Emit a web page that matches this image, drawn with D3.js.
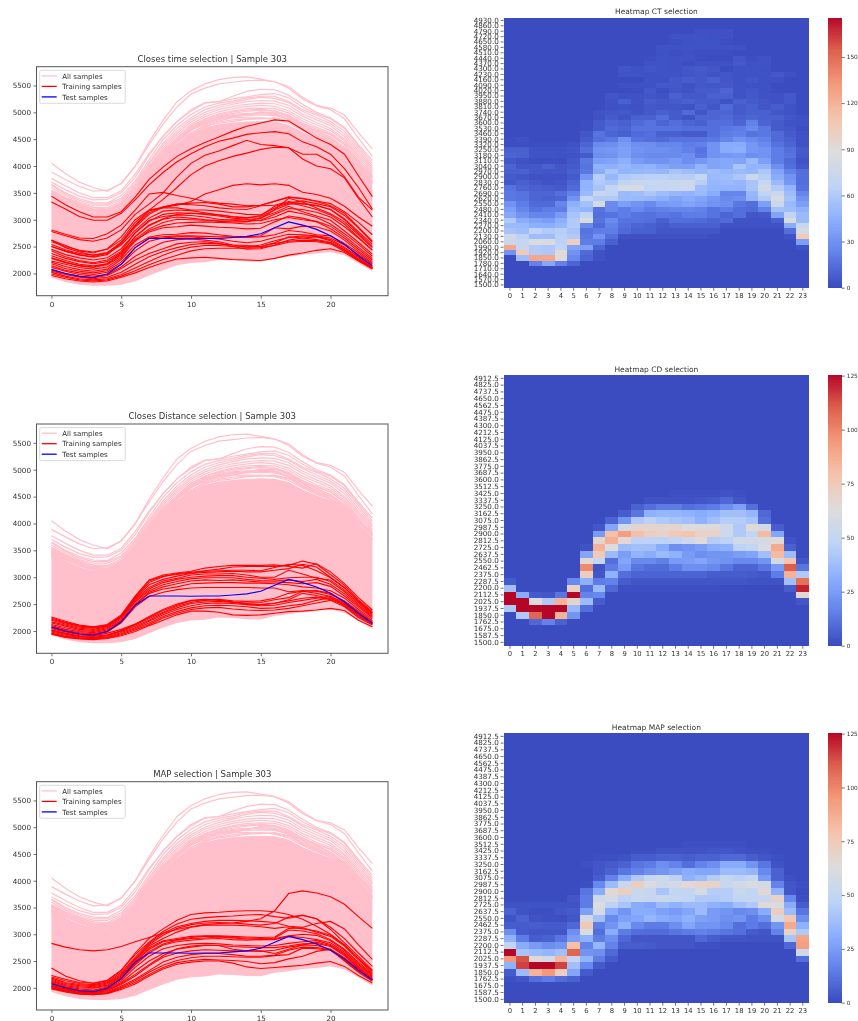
<!DOCTYPE html>
<html>
<head>
<meta charset="utf-8">
<script src="https://cdn.jsdelivr.net/npm/d3@7"></script>
<style>
  body { margin: 0; background: #fff; }
  svg { display: block; filter: blur(0.35px); }
  text { font-family: "DejaVu Sans", sans-serif; fill: #333; }
</style>
</head>
<body>
<svg id="chart" width="858" height="1021"></svg>
<script>
var hours = [0,1,2,3,4,5,6,7,8,9,10,11,12,13,14,15,16,17,18,19,20,21,22,23];
var xTicks = [0,5,10,15,20];
var yTicks = [2000,2500,3000,3500,4000,4500,5000,5500];
var legendLabels = ['All samples','Training samples','Test samples'];

var testSample = [2075,2000,1945,1925,1990,2170,2480,2650,2650,2650,2645,2650,2650,2670,2690,2740,2850,2960,2900,2820,2700,2540,2330,2145];

// the solid part of the pink bundle
var bandLower = [1920,1840,1790,1770,1770,1790,1850,1960,2060,2150,2195,2210,2250,2240,2220,2215,2280,2310,2350,2370,2400,2340,2190,2040];
var bandUpper = [3460,3310,3190,3120,3110,3230,3500,3880,4170,4420,4600,4720,4780,4810,4830,4840,4830,4770,4630,4520,4430,4260,3960,3710];

var allSamples = [
  [4050,3860,3700,3600,3530,3680,4000,4450,4850,5200,5400,5530,5610,5650,5660,5620,5570,5480,5280,5130,5080,4950,4620,4320],
  [3890,3750,3620,3530,3550,3670,3990,4400,4780,5100,5340,5450,5530,5560,5590,5600,5570,5450,5250,5120,5050,4880,4520,4180],
  [3770,3630,3500,3410,3410,3540,3850,4230,4550,4830,5050,5180,5200,5300,5390,5430,5420,5320,5150,5000,4900,4720,4400,4100],
  [3700,3560,3440,3370,3380,3500,3790,4200,4560,4830,5020,5170,5200,5250,5290,5330,5350,5270,5100,4970,4880,4700,4370,4050],
  [3660,3500,3390,3320,3310,3450,3720,4120,4490,4760,4960,5100,5170,5210,5270,5300,5300,5200,5050,4950,4830,4650,4330,4000],
  [3640,3480,3360,3290,3290,3400,3680,4070,4420,4700,4900,5050,5130,5180,5240,5280,5260,5180,5020,4900,4790,4600,4280,3960],
  [3600,3450,3330,3260,3260,3370,3650,4040,4380,4650,4860,5000,5090,5150,5200,5220,5210,5130,4970,4860,4750,4550,4230,3930],
  [3560,3420,3300,3230,3220,3340,3620,4000,4340,4610,4820,4960,5050,5110,5150,5170,5160,5080,4930,4810,4700,4500,4190,3890],
  [3530,3390,3270,3200,3190,3310,3590,3970,4300,4570,4780,4920,5010,5070,5110,5130,5110,5030,4880,4770,4660,4470,4150,3860],
  [3510,3360,3240,3170,3160,3280,3560,3940,4260,4530,4740,4880,4970,5030,5070,5080,5070,4990,4840,4720,4620,4430,4110,3830],
  [3480,3340,3220,3150,3140,3260,3530,3910,4230,4490,4700,4840,4930,4980,5020,5040,5030,4950,4800,4680,4580,4390,4080,3800],
  [3470,3330,3210,3140,3130,3240,3510,3890,4200,4460,4660,4800,4890,4940,4970,4990,4980,4900,4760,4640,4540,4350,4040,3770],
  [3450,3320,3230,3180,3170,3250,3480,3860,4200,4470,4690,4830,4910,4960,4980,4970,4960,4870,4720,4620,4510,4320,4010,3760],
  [3430,3280,3160,3100,3130,3270,3540,3900,4230,4520,4720,4850,4900,4930,4940,4950,4940,4880,4750,4590,4500,4330,4040,3790],
  [3500,3370,3260,3170,3150,3220,3490,3850,4170,4440,4670,4780,4870,4920,4950,5000,5010,4930,4770,4660,4530,4300,3980,3730],
  [3410,3250,3130,3060,3070,3190,3470,3840,4150,4410,4610,4760,4840,4900,4960,5010,4970,4860,4690,4600,4470,4290,3970,3720],
  [3520,3400,3280,3190,3160,3290,3580,3960,4290,4500,4680,4810,4880,4900,4900,4890,4880,4830,4700,4570,4460,4310,3990,3700],
  [3380,3230,3120,3040,3040,3170,3460,3820,4120,4390,4580,4730,4820,4860,4880,4900,4870,4800,4660,4540,4450,4270,3960,3680],
  [3540,3410,3310,3220,3200,3300,3570,3920,4240,4460,4620,4750,4800,4830,4870,4880,4900,4840,4680,4560,4440,4250,3940,3690],
  [3490,3350,3210,3130,3120,3210,3500,3880,4220,4510,4750,4870,4950,5010,5040,5060,5020,4920,4790,4690,4590,4400,4060,3810]
];

var trainingCT = [
  [3440,3280,3150,3050,3050,3150,3420,3750,3980,4180,4320,4440,4540,4650,4740,4800,4860,4840,4680,4520,4400,4220,3820,3430],
  [3330,3200,3060,2990,2990,3120,3370,3650,3880,4080,4230,4360,4460,4520,4590,4620,4640,4600,4450,4360,4220,3950,3600,3200],
  [2810,2730,2660,2650,2740,2900,3180,3480,3510,3450,3400,3340,3310,3290,3260,3270,3340,3420,3400,3350,3300,3150,2950,2720],
  [2780,2700,2630,2600,2660,2810,3100,3290,3500,3800,4050,4200,4280,4380,4480,4400,4380,4340,4130,4000,3950,3780,3400,3050],
  [2620,2520,2420,2380,2460,2680,3000,3180,3230,3270,3340,3480,3560,3640,3670,3650,3670,3640,3510,3470,3400,3250,3050,2880],
  [2500,2420,2350,2310,2380,2580,2900,3180,3380,3600,3840,4000,4100,4180,4240,4310,4350,4340,4220,4220,4080,3800,3420,3180],
  [2500,2410,2340,2300,2350,2560,2860,3100,3230,3290,3310,3320,3290,3240,3240,3270,3350,3420,3390,3340,3260,3120,2860,2600],
  [2620,2480,2400,2340,2370,2530,2800,3030,3160,3180,3170,3130,3090,3060,3040,3060,3180,3290,3300,3260,3190,3020,2780,2540],
  [2450,2350,2290,2250,2290,2460,2750,2970,3100,3130,3120,3100,3070,3030,3010,3020,3190,3400,3330,3220,3110,2960,2720,2480],
  [2420,2310,2240,2200,2250,2410,2760,2990,3060,3090,3080,3050,3010,2990,2970,2990,3100,3210,3190,3140,3050,2870,2660,2430],
  [2370,2280,2220,2180,2220,2390,2680,2890,3010,3050,3030,3000,2970,2960,2960,3040,3130,3250,3150,3070,2990,2790,2580,2360],
  [2330,2240,2170,2140,2180,2350,2640,2830,2950,3010,3000,2990,2990,3000,3000,2980,3050,3160,3110,3040,2920,2740,2540,2320],
  [2290,2210,2140,2110,2160,2320,2600,2800,2890,2940,2950,2960,2950,2940,2920,2930,3000,3040,3000,2970,2880,2700,2490,2280],
  [2230,2170,2110,2080,2120,2290,2620,2770,2850,2870,2900,2880,2860,2850,2830,2840,2960,3070,3030,2960,2830,2660,2450,2250],
  [2210,2130,2070,2040,2080,2260,2530,2680,2720,2730,2760,2750,2720,2690,2680,2700,2850,2830,2880,2870,2790,2620,2410,2220],
  [2180,2090,2040,2010,2050,2210,2480,2660,2680,2700,2700,2690,2680,2680,2670,2680,2720,2800,2770,2720,2700,2560,2380,2190],
  [2140,2060,2010,1980,2020,2170,2420,2600,2660,2680,2680,2660,2640,2600,2570,2600,2670,2730,2720,2700,2660,2530,2350,2170],
  [2110,2040,1980,1950,1980,2120,2320,2460,2580,2630,2640,2620,2590,2530,2490,2530,2610,2670,2700,2690,2630,2490,2310,2130],
  [2060,2000,1950,1920,1960,2090,2250,2370,2460,2550,2580,2590,2560,2500,2450,2460,2530,2620,2660,2680,2610,2470,2290,2110],
  [2040,1980,1930,1900,1930,2020,2170,2310,2410,2480,2540,2560,2550,2530,2520,2500,2570,2680,2660,2630,2580,2440,2270,2100],
  [2020,1950,1900,1880,1900,1980,2100,2220,2340,2430,2490,2520,2520,2500,2490,2500,2560,2600,2620,2610,2570,2430,2260,2090],
  [1990,1930,1880,1860,1880,1950,2050,2160,2260,2340,2420,2460,2470,2470,2470,2480,2520,2580,2600,2590,2550,2410,2250,2090],
  [1960,1900,1860,1840,1860,1930,2010,2110,2200,2270,2290,2300,2280,2260,2250,2240,2280,2340,2380,2430,2460,2390,2230,2080],
  [2540,2440,2370,2340,2390,2570,2890,3130,3240,3290,3280,3260,3220,3200,3190,3260,3270,3340,3300,3270,3190,3000,2750,2500],
  [2280,2200,2150,2120,2180,2370,2690,2900,3020,3100,3120,3110,3090,3050,3030,3080,3250,3320,3260,3190,3090,2920,2670,2440],
  [2590,2500,2430,2400,2450,2620,2950,3170,3220,3220,3180,3180,3160,3130,3100,3090,3220,3310,3350,3300,3240,3080,2850,2580]
];

var trainingCD = [
  [2260,2180,2110,2080,2120,2300,2650,2950,3040,3080,3110,3170,3200,3220,3220,3220,3230,3200,3170,3250,3100,2880,2620,2390],
  [2220,2150,2090,2060,2100,2280,2620,2900,3010,3070,3090,3120,3150,3190,3200,3200,3200,3220,3300,3240,3050,2850,2580,2360],
  [2240,2160,2100,2070,2110,2270,2640,2930,3020,3050,3080,3110,3120,3130,3130,3120,3180,3240,3220,3120,2990,2810,2560,2340],
  [2200,2130,2070,2050,2090,2270,2600,2860,2960,3020,3070,3090,3100,3110,3100,3100,3130,3160,3240,3190,3000,2800,2550,2330],
  [2170,2110,2050,2030,2080,2250,2590,2810,2930,2980,3040,3060,3060,3070,3040,3000,3000,3130,3060,2980,2950,2760,2530,2310],
  [2150,2090,2030,2010,2060,2230,2560,2780,2900,2960,3000,3020,3030,3030,3000,2980,2960,2990,3000,3000,2920,2730,2500,2290],
  [2120,2060,2010,1990,2040,2200,2540,2750,2860,2920,2970,2990,2990,2990,2960,2940,2930,2950,2920,2960,2870,2690,2470,2270],
  [2100,2030,1990,1970,2020,2180,2500,2720,2820,2880,2930,2950,2940,2950,2930,2910,2910,2900,2880,2900,2830,2650,2440,2250],
  [2080,2010,1970,1950,2000,2160,2480,2700,2780,2820,2880,2890,2900,2900,2890,2890,2880,2860,2820,2800,2750,2610,2400,2220],
  [2060,1990,1950,1930,1980,2150,2450,2640,2720,2770,2800,2810,2810,2810,2810,2800,2800,2730,2750,2740,2680,2560,2370,2190],
  [2040,1980,1930,1910,1960,2030,2130,2250,2380,2480,2560,2580,2590,2560,2550,2560,2610,2700,2740,2750,2700,2550,2350,2170],
  [2020,1960,1910,1900,1930,2010,2110,2230,2350,2460,2530,2570,2580,2540,2520,2530,2580,2620,2740,2700,2640,2530,2330,2160],
  [2000,1940,1900,1880,1910,1990,2090,2200,2330,2430,2510,2540,2550,2530,2510,2490,2510,2580,2700,2660,2600,2510,2310,2150],
  [1980,1920,1880,1870,1890,1970,2060,2180,2300,2400,2470,2510,2520,2510,2490,2470,2480,2530,2570,2610,2650,2490,2290,2140],
  [1960,1900,1870,1860,1880,1950,2040,2150,2270,2360,2430,2470,2480,2470,2450,2420,2430,2470,2500,2570,2620,2470,2270,2130],
  [1950,1890,1860,1850,1870,1930,2020,2120,2240,2330,2400,2430,2440,2410,2390,2380,2390,2420,2470,2520,2570,2450,2250,2110],
  [1940,1880,1850,1840,1860,1910,1990,2100,2200,2300,2370,2370,2350,2300,2290,2300,2330,2360,2370,2390,2420,2380,2200,2080],
  [2010,1950,1900,1880,1920,2000,2120,2270,2400,2500,2570,2590,2570,2540,2490,2490,2520,2560,2610,2630,2580,2490,2300,2150]
];

var trainingMAP = [
  [2830,2760,2710,2690,2710,2770,2860,2940,3020,3090,3140,3180,3200,3210,3240,3290,3440,3760,3810,3770,3700,3560,3330,3110],
  [2370,2220,2130,2080,2130,2320,2650,2920,3100,3260,3370,3400,3410,3430,3440,3440,3420,3370,3280,3150,3000,2800,2550,2320],
  [2230,2160,2100,2090,2140,2330,2620,2850,3050,3190,3280,3310,3330,3340,3360,3370,3330,3300,3350,3290,3130,2920,2650,2400],
  [2200,2130,2080,2060,2110,2290,2570,2830,3020,3140,3200,3240,3260,3260,3250,3240,3220,3150,3130,3200,3240,3100,2800,2530],
  [2180,2100,2060,2040,2090,2260,2540,2810,2980,3110,3180,3210,3220,3210,3190,3170,3200,3320,3360,3290,3090,2840,2590,2330],
  [2160,2080,2040,2020,2070,2240,2520,2780,2920,3040,3130,3170,3170,3170,3160,3140,3110,3140,3100,3060,2980,2800,2550,2300],
  [2140,2060,2020,2000,2050,2220,2500,2750,2880,2920,2960,2970,2970,2960,2950,2940,2950,3110,3120,3040,2960,2780,2520,2280],
  [2120,2040,2000,1990,2030,2200,2480,2720,2860,2900,2940,2960,2960,2940,2930,2920,2930,3080,3060,3010,2900,2720,2480,2260],
  [2100,2020,1980,1960,2010,2180,2450,2680,2820,2890,2920,2930,2950,2930,2910,2900,2920,2970,3000,2980,2880,2700,2450,2240],
  [2090,2010,1960,1950,2000,2160,2430,2650,2800,2860,2890,2910,2920,2900,2890,2900,2900,2960,2940,2900,2840,2670,2430,2220],
  [2070,2000,1950,1930,1980,2130,2380,2590,2730,2790,2820,2830,2820,2800,2790,2780,2790,2830,2860,2880,2810,2640,2400,2200],
  [2050,1980,1930,1920,1970,2100,2310,2500,2640,2720,2760,2790,2790,2770,2760,2750,2750,2780,2820,2830,2770,2600,2370,2180],
  [2030,1960,1920,1900,1950,2060,2220,2410,2570,2650,2690,2710,2700,2690,2690,2680,2700,2760,2800,2790,2720,2560,2350,2160],
  [2010,1950,1910,1890,1930,2030,2160,2320,2480,2570,2620,2640,2640,2620,2590,2590,2610,2700,2760,2750,2710,2540,2330,2150],
  [2000,1940,1900,1880,1910,2010,2130,2290,2420,2510,2560,2590,2590,2580,2570,2570,2600,2620,2740,2730,2700,2520,2310,2140],
  [1990,1930,1890,1870,1900,1990,2100,2250,2380,2470,2510,2530,2520,2510,2490,2450,2470,2540,2590,2680,2720,2500,2290,2120],
  [1980,1920,1880,1870,1890,1970,2070,2220,2350,2440,2480,2500,2500,2460,2390,2360,2380,2400,2420,2460,2490,2400,2230,2090],
  [2030,1970,1930,1910,1950,2080,2250,2430,2600,2730,2780,2800,2790,2720,2690,2690,2640,2720,2800,2850,2790,2620,2380,2170]
];

var ctBins = ['4930.0','4860.0','4790.0','4720.0','4650.0','4580.0','4510.0','4440.0','4370.0','4300.0','4230.0','4160.0','4090.0','4020.0','3950.0','3880.0','3810.0','3740.0','3670.0','3600.0','3530.0','3460.0','3390.0','3320.0','3250.0','3180.0','3110.0','3040.0','2970.0','2900.0','2830.0','2760.0','2690.0','2620.0','2550.0','2480.0','2410.0','2340.0','2270.0','2200.0','2130.0','2060.0','1990.0','1920.0','1850.0','1780.0','1710.0','1640.0','1570.0','1500.0'];
var cdBins = ['4912.5','4825.0','4737.5','4650.0','4562.5','4475.0','4387.5','4300.0','4212.5','4125.0','4037.5','3950.0','3862.5','3775.0','3687.5','3600.0','3512.5','3425.0','3337.5','3250.0','3162.5','3075.0','2987.5','2900.0','2812.5','2725.0','2637.5','2550.0','2462.5','2375.0','2287.5','2200.0','2112.5','2025.0','1937.5','1850.0','1762.5','1675.0','1587.5','1500.0'];

var ctTicks = [0,30,60,90,120,150];
var cdTicks = [0,25,50,75,100,125];

var ctCounts = [
  [0,0,0,0,0,0,0,0,0,0,0,0,0,0,0,0,0,0,0,0,0,0,0,0],
  [0,0,0,0,0,0,0,0,0,0,0,0,0,0,0,0,0,0,0,0,0,0,0,0],
  [0,0,0,0,0,0,0,0,0,0,0,0,0,0,0,2,2,2,0,0,0,0,0,0],
  [0,0,0,0,0,0,0,0,0,0,0,0,0,3,2,3,2,2,0,0,0,0,0,0],
  [0,0,0,0,0,0,0,0,0,0,0,0,0,1,2,3,3,1,0,0,0,0,0,0],
  [0,0,0,0,0,0,0,0,0,0,0,0,3,3,3,3,3,3,2,0,0,0,0,0],
  [0,0,0,0,0,0,0,0,0,0,0,0,2,1,2,1,1,1,0,0,0,0,0,0],
  [0,0,0,0,0,0,0,0,0,0,0,1,3,2,2,1,0,0,4,1,3,0,0,0],
  [0,0,0,0,0,0,0,0,0,0,0,3,3,2,1,2,2,2,5,2,3,0,0,0],
  [0,0,0,0,0,0,0,0,0,4,2,4,3,2,4,6,4,0,2,3,2,0,0,0],
  [0,0,0,0,0,0,0,0,0,3,3,2,3,3,4,5,3,4,2,3,3,5,2,0],
  [0,0,0,0,0,0,0,0,0,0,0,2,2,5,7,5,8,4,2,4,2,2,0,0],
  [0,0,0,0,0,0,0,0,0,2,2,2,5,5,2,5,4,5,3,2,2,0,0,0],
  [0,0,0,0,0,0,0,0,0,0,1,5,1,4,3,6,6,10,3,4,2,0,0,0],
  [0,0,0,0,0,0,0,0,4,2,2,4,3,8,5,5,8,8,3,5,3,2,5,0],
  [0,0,0,0,0,0,0,0,2,8,3,7,5,6,8,6,6,3,8,6,4,2,5,0],
  [0,0,0,0,0,0,0,0,2,3,2,5,4,4,3,8,4,12,6,8,4,7,3,0],
  [0,0,0,0,0,0,0,3,4,5,3,5,8,6,12,4,10,10,6,8,8,4,3,0],
  [0,0,0,0,0,0,0,2,6,3,8,8,14,6,3,10,10,12,8,10,8,8,4,2],
  [0,0,0,0,0,0,1,6,10,8,12,16,10,14,10,8,14,14,10,22,10,6,3,2],
  [0,0,0,0,0,0,1,6,12,10,16,16,16,16,14,14,14,18,20,26,18,6,4,1],
  [0,0,0,0,0,0,4,16,10,8,12,14,8,8,6,6,14,20,22,16,18,12,6,2],
  [1,2,0,0,0,0,6,14,18,30,16,14,12,16,16,16,18,24,30,26,22,12,8,3],
  [1,1,1,1,1,2,10,26,28,34,28,28,24,24,20,22,30,42,42,32,26,16,10,3],
  [8,8,3,3,3,4,14,30,32,36,30,28,28,26,22,16,30,42,44,32,30,20,14,6],
  [10,8,3,3,2,3,6,28,30,36,28,26,26,26,28,18,30,32,34,28,30,20,16,5],
  [5,3,1,1,1,5,18,36,38,44,34,30,30,34,28,32,38,40,38,50,36,20,12,3],
  [10,4,5,8,4,6,16,46,44,48,44,46,40,36,36,46,38,40,56,46,46,28,14,5],
  [8,8,5,4,4,8,18,42,56,46,48,50,48,56,52,48,52,48,50,48,58,38,22,14],
  [6,4,2,2,2,6,32,62,48,60,62,64,64,62,62,70,50,52,58,75,62,42,30,14],
  [5,8,5,3,4,10,46,60,56,66,70,70,70,72,75,62,48,50,48,56,70,50,32,14],
  [16,10,8,7,6,12,46,56,68,82,82,68,70,72,74,52,46,46,46,56,78,60,46,16],
  [18,16,10,10,14,22,50,72,66,50,52,58,52,48,46,50,42,24,24,48,66,74,52,24],
  [18,16,10,8,10,30,68,60,60,50,50,48,44,38,42,38,32,26,28,46,60,84,55,30],
  [30,20,12,12,24,44,54,80,26,36,30,26,34,35,38,35,30,28,18,14,36,74,50,36],
  [36,24,16,20,20,50,46,16,25,20,26,20,22,24,24,22,16,20,14,12,22,54,52,45],
  [40,30,24,24,34,56,66,14,16,20,16,15,18,16,20,20,16,10,14,4,5,38,66,50],
  [60,42,38,35,44,60,85,16,26,16,16,14,8,14,14,12,10,12,3,3,3,8,85,50],
  [50,50,44,44,48,60,26,12,22,14,10,8,5,8,8,8,8,2,2,2,2,2,42,72],
  [55,52,65,60,62,56,16,20,20,12,8,8,4,4,4,4,4,0,0,0,0,0,14,80],
  [78,64,52,52,64,60,18,30,14,2,2,2,2,2,2,2,1,0,0,0,0,0,3,105],
  [72,70,85,85,64,100,20,20,8,0,0,0,0,0,0,0,0,0,0,0,0,0,0,36],
  [125,70,60,58,66,38,36,10,0,0,0,0,0,0,0,0,0,0,0,0,0,0,0,3],
  [30,105,60,58,90,30,12,3,0,0,0,0,0,0,0,0,0,0,0,0,0,0,0,0],
  [0,52,125,125,90,25,10,2,0,0,0,0,0,0,0,0,0,0,0,0,0,0,0,0],
  [0,0,22,40,22,10,0,0,0,0,0,0,0,0,0,0,0,0,0,0,0,0,0,0],
  [0,0,0,0,0,0,0,0,0,0,0,0,0,0,0,0,0,0,0,0,0,0,0,0],
  [0,0,0,0,0,0,0,0,0,0,0,0,0,0,0,0,0,0,0,0,0,0,0,0],
  [0,0,0,0,0,0,0,0,0,0,0,0,0,0,0,0,0,0,0,0,0,0,0,0],
  [0,0,0,0,0,0,0,0,0,0,0,0,0,0,0,0,0,0,0,0,0,0,0,0]
];

var cdCounts = [
  [0,0,0,0,0,0,0,0,0,0,0,0,0,0,0,0,0,0,0,0,0,0,0,0],
  [0,0,0,0,0,0,0,0,0,0,0,0,0,0,0,0,0,0,0,0,0,0,0,0],
  [0,0,0,0,0,0,0,0,0,0,0,0,0,0,0,0,0,0,0,0,0,0,0,0],
  [0,0,0,0,0,0,0,0,0,0,0,0,0,0,0,0,0,0,0,0,0,0,0,0],
  [0,0,0,0,0,0,0,0,0,0,0,0,0,0,0,0,0,0,0,0,0,0,0,0],
  [0,0,0,0,0,0,0,0,0,0,0,0,0,0,0,0,0,0,0,0,0,0,0,0],
  [0,0,0,0,0,0,0,0,0,0,0,0,0,0,0,0,0,0,0,0,0,0,0,0],
  [0,0,0,0,0,0,0,0,0,0,0,0,0,0,0,0,0,0,0,0,0,0,0,0],
  [0,0,0,0,0,0,0,0,0,0,0,0,0,0,0,0,0,0,0,0,0,0,0,0],
  [0,0,0,0,0,0,0,0,0,0,0,0,0,0,0,0,0,0,0,0,0,0,0,0],
  [0,0,0,0,0,0,0,0,0,0,0,0,0,0,0,0,0,0,0,0,0,0,0,0],
  [0,0,0,0,0,0,0,0,0,0,0,0,0,0,0,0,0,0,0,0,0,0,0,0],
  [0,0,0,0,0,0,0,0,0,0,0,0,0,0,0,0,0,0,0,0,0,0,0,0],
  [0,0,0,0,0,0,0,0,0,0,0,0,0,0,0,0,0,0,0,0,0,0,0,0],
  [0,0,0,0,0,0,0,0,0,0,0,0,0,0,0,0,0,0,0,0,0,0,0,0],
  [0,0,0,0,0,0,0,0,0,0,0,0,0,0,0,0,0,0,0,0,0,0,0,0],
  [0,0,0,0,0,0,0,0,0,0,0,0,0,0,0,0,0,0,0,0,0,0,0,0],
  [0,0,0,0,0,0,0,0,0,0,0,0,0,1,1,1,1,2,1,0,0,0,0,0],
  [0,0,0,0,0,0,0,0,0,0,0,2,2,2,2,3,4,8,3,0,0,0,0,0],
  [0,0,0,0,0,0,0,0,0,0,6,10,14,14,10,12,14,20,26,10,0,0,0,0],
  [0,0,0,0,0,0,0,0,0,5,12,32,34,34,32,30,32,38,38,34,8,0,0,0],
  [0,0,0,0,0,0,0,0,7,22,42,46,42,40,38,32,38,44,44,40,10,0,0,0],
  [0,0,0,0,0,0,0,3,28,58,68,68,68,68,62,64,64,54,42,64,58,5,0,0],
  [0,0,0,0,0,0,0,24,80,92,80,72,70,75,78,70,70,55,42,48,82,28,0,0],
  [0,0,0,0,0,0,0,68,86,65,46,46,46,47,54,64,44,46,56,56,58,64,2,0],
  [0,0,0,0,0,0,2,85,62,36,38,38,30,20,22,25,30,32,46,48,60,88,6,0],
  [0,0,0,0,0,0,28,75,36,25,33,30,36,32,24,20,22,22,25,27,38,82,36,0],
  [0,0,0,0,0,0,65,50,10,28,18,18,15,24,25,28,23,21,18,18,22,58,78,3],
  [0,0,0,0,0,0,98,2,14,24,12,9,9,14,20,20,18,12,7,7,12,24,110,12],
  [0,0,0,0,0,0,72,3,32,10,7,7,7,7,7,7,5,5,5,4,3,14,85,42],
  [4,0,0,0,0,18,32,14,16,5,3,3,3,3,3,3,3,3,3,2,2,2,38,105],
  [38,0,0,0,0,70,10,36,8,1,1,1,1,1,1,1,1,0,0,0,0,0,5,120],
  [125,30,4,3,12,125,16,18,0,0,0,0,0,0,0,0,0,0,0,0,0,0,0,65],
  [125,125,62,42,85,68,36,5,0,0,0,0,0,0,0,0,0,0,0,0,0,0,0,3],
  [42,125,125,125,125,35,10,0,0,0,0,0,0,0,0,0,0,0,0,0,0,0,0,0],
  [0,42,108,125,85,22,0,0,0,0,0,0,0,0,0,0,0,0,0,0,0,0,0,0],
  [0,0,8,16,6,0,0,0,0,0,0,0,0,0,0,0,0,0,0,0,0,0,0,0],
  [0,0,0,0,0,0,0,0,0,0,0,0,0,0,0,0,0,0,0,0,0,0,0,0],
  [0,0,0,0,0,0,0,0,0,0,0,0,0,0,0,0,0,0,0,0,0,0,0,0],
  [0,0,0,0,0,0,0,0,0,0,0,0,0,0,0,0,0,0,0,0,0,0,0,0]
];

var mapCounts = [
  [0,0,0,0,0,0,0,0,0,0,0,0,0,0,0,0,0,0,0,0,0,0,0,0],
  [0,0,0,0,0,0,0,0,0,0,0,0,0,0,0,0,0,0,0,0,0,0,0,0],
  [0,0,0,0,0,0,0,0,0,0,0,0,0,0,0,0,0,0,0,0,0,0,0,0],
  [0,0,0,0,0,0,0,0,0,0,0,0,0,0,0,0,0,0,0,0,0,0,0,0],
  [0,0,0,0,0,0,0,0,0,0,0,0,0,0,0,0,0,0,0,0,0,0,0,0],
  [0,0,0,0,0,0,0,0,0,0,0,0,0,0,0,0,0,0,0,0,0,0,0,0],
  [0,0,0,0,0,0,0,0,0,0,0,0,0,0,0,0,0,0,0,0,0,0,0,0],
  [0,0,0,0,0,0,0,0,0,0,0,0,0,0,0,0,0,0,0,0,0,0,0,0],
  [0,0,0,0,0,0,0,0,0,0,0,0,0,0,0,0,0,0,0,0,0,0,0,0],
  [0,0,0,0,0,0,0,0,0,0,0,0,0,0,0,0,0,0,0,0,0,0,0,0],
  [0,0,0,0,0,0,0,0,0,0,0,0,0,0,0,0,0,0,0,0,0,0,0,0],
  [0,0,0,0,0,0,0,0,0,0,0,0,0,0,0,0,0,0,0,0,0,0,0,0],
  [0,0,0,0,0,0,0,0,0,0,0,0,0,0,0,0,0,0,0,0,0,0,0,0],
  [0,0,0,0,0,0,0,0,0,0,0,0,0,0,0,0,0,0,0,0,0,0,0,0],
  [0,0,0,0,0,0,0,0,0,0,0,0,0,0,0,0,0,0,0,0,0,0,0,0],
  [0,0,0,0,0,0,0,0,0,0,0,0,0,0,0,0,0,0,0,0,0,0,0,0],
  [0,0,0,0,0,0,0,0,0,0,0,0,0,0,1,1,1,1,1,0,0,0,0,0],
  [0,0,0,0,0,0,0,0,0,0,1,1,2,2,2,2,3,3,2,1,1,0,0,0],
  [0,0,0,0,0,0,0,1,1,2,5,5,6,6,5,6,6,8,8,5,3,1,0,0],
  [0,0,0,0,0,0,1,3,4,6,12,14,20,16,10,16,20,30,30,22,12,2,0,0],
  [0,0,0,0,0,0,0,3,6,12,16,20,22,26,30,28,28,36,36,34,18,6,0,0],
  [0,0,0,0,0,0,0,5,16,30,42,50,54,46,32,36,44,50,46,50,24,6,1,0],
  [0,0,0,0,0,0,1,18,36,52,72,60,54,58,66,68,70,52,56,60,56,16,3,1],
  [0,0,0,0,0,0,12,30,66,72,52,50,40,48,48,58,44,44,52,48,66,32,3,0],
  [0,0,0,0,0,3,14,54,58,46,52,50,52,50,48,42,42,44,48,48,50,70,18,1],
  [2,2,2,2,2,2,14,62,46,40,30,28,36,32,36,36,32,30,38,42,64,60,30,5],
  [6,2,1,1,3,4,26,58,30,22,30,30,26,24,28,36,24,22,18,20,30,72,36,12],
  [2,6,2,1,1,3,56,38,18,26,28,34,30,28,32,26,24,20,22,14,20,56,76,20],
  [5,4,5,4,4,8,76,14,22,32,18,14,14,20,28,22,22,18,10,14,10,22,88,32],
  [20,4,3,3,3,20,60,10,30,14,10,9,9,12,14,16,14,12,10,4,3,16,70,42],
  [32,14,5,6,12,25,32,14,20,8,3,3,3,3,3,8,5,3,3,2,2,2,40,90],
  [48,30,24,20,22,80,16,34,16,5,5,4,3,3,3,1,1,0,0,0,0,0,8,92],
  [125,40,36,34,38,108,22,20,8,0,0,0,0,0,0,0,0,0,0,0,0,0,0,55],
  [94,112,64,56,84,50,33,14,4,0,0,0,0,0,0,0,0,0,0,0,0,0,0,10],
  [32,115,125,125,115,38,18,4,0,0,0,0,0,0,0,0,0,0,0,0,0,0,0,0],
  [4,36,85,94,72,28,4,0,0,0,0,0,0,0,0,0,0,0,0,0,0,0,0,0],
  [1,3,10,14,9,6,0,0,0,0,0,0,0,0,0,0,0,0,0,0,0,0,0,0],
  [0,0,0,0,0,0,0,0,0,0,0,0,0,0,0,0,0,0,0,0,0,0,0,0],
  [0,0,0,0,0,0,0,0,0,0,0,0,0,0,0,0,0,0,0,0,0,0,0,0],
  [0,0,0,0,0,0,0,0,0,0,0,0,0,0,0,0,0,0,0,0,0,0,0,0]
];

var coolwarm = ['#3b4cc0','#6282ea','#8db0fe','#c0d4f5','#dddcdc','#f5c4ad','#f49a7b','#de604d','#b40426'];
var pink = '#ffc0cb';

var svg = d3.select('#chart');

function styleAxis(g) {
  g.selectAll('text').attr('font-size', 7.2);
  g.selectAll('line').attr('stroke', '#333').attr('stroke-width', 0.7);
  g.select('.domain').remove();
}

function linePanel(title, top, bottom, training) {
  var left = 36.5, right = 388;
  var x = d3.scaleLinear().domain([-1.07, 24.12]).range([left, right]);
  var y = d3.scaleLinear().domain([1585, 5850]).range([bottom, top]);
  var line = d3.line().x(function(d, i) { return x(hours[i]); }).y(function(d) { return y(d); });

  var g = svg.append('g');

  var band = d3.area()
    .x(function(d) { return x(d); })
    .y0(function(d, i) { return y(bandLower[i]); })
    .y1(function(d, i) { return y(bandUpper[i]); });
  g.append('path').attr('d', band(hours)).attr('fill', pink);

  g.selectAll('path.all').data(allSamples).enter().append('path')
    .attr('class', 'all').attr('d', line)
    .attr('fill', 'none').attr('stroke', pink).attr('stroke-width', 1.2);

  g.selectAll('path.train').data(training).enter().append('path')
    .attr('class', 'train').attr('d', line)
    .attr('fill', 'none').attr('stroke', '#f00').attr('stroke-width', 1.1);

  g.append('path').attr('d', line(testSample))
    .attr('fill', 'none').attr('stroke', '#00f').attr('stroke-width', 1.1);

  g.append('g').attr('transform', 'translate(0,' + bottom + ')')
    .call(d3.axisBottom(x).tickValues(xTicks).tickSize(3).tickPadding(3).tickFormat(d3.format('d')))
    .call(styleAxis);
  g.append('g').attr('transform', 'translate(' + left + ',0)')
    .call(d3.axisLeft(y).tickValues(yTicks).tickSize(3).tickPadding(2.5).tickFormat(d3.format('d')))
    .call(styleAxis);

  g.append('rect').attr('x', left).attr('y', top)
    .attr('width', right - left).attr('height', bottom - top)
    .attr('fill', 'none').attr('stroke', '#555').attr('stroke-width', 1);

  g.append('text').attr('x', (left + right) / 2).attr('y', top - 5)
    .attr('text-anchor', 'middle').attr('font-size', 8.5).text(title);

  // legend
  var lx = left + 3.2, ly = top + 3.6;
  var legend = g.append('g').attr('transform', 'translate(' + lx + ',' + ly + ')');
  legend.append('rect').attr('width', 85.5).attr('height', 33).attr('rx', 1.5)
    .attr('fill', '#fff').attr('fill-opacity', 0.8)
    .attr('stroke', '#ccc').attr('stroke-width', 0.7);
  var legendColors = [pink, '#f00', '#00f'];
  legendLabels.forEach(function(label, i) {
    var yy = 5.6 + i * 10.5;
    legend.append('line').attr('x1', 2).attr('x2', 17).attr('y1', yy).attr('y2', yy)
      .attr('stroke', legendColors[i]).attr('stroke-width', 1.3);
    legend.append('text').attr('x', 22.6).attr('y', yy + 2.7).attr('font-size', 7.05).text(label);
  });
}

function heatmapPanel(title, top, bottom, bins, counts, vmax, cbTicks) {
  var left = 503.6, right = 809.2, cbLeft = 828.3, cbRight = 841.7;
  var x = d3.scaleBand().domain(hours).range([left, right]);
  var y = d3.scaleBand().domain(bins).range([top, bottom]);
  var color = d3.scaleLinear()
    .domain(coolwarm.map(function(c, i) { return vmax * i / (coolwarm.length - 1); }))
    .range(coolwarm);

  var g = svg.append('g');
  var cells = [];
  counts.forEach(function(row, r) {
    row.forEach(function(v, c) { cells.push({ bin: bins[r], hour: hours[c], v: v }); });
  });
  g.selectAll('rect.cell').data(cells).enter().append('rect')
    .attr('class', 'cell')
    .attr('x', function(d) { return x(d.hour); })
    .attr('y', function(d) { return y(d.bin); })
    .attr('width', x.bandwidth())
    .attr('height', y.bandwidth())
    .attr('shape-rendering', 'crispEdges')
    .attr('fill', function(d) { return color(d.v); });

  g.append('g').attr('transform', 'translate(0,' + bottom + ')')
    .call(d3.axisBottom(x).tickSize(3).tickPadding(2.5))
    .call(styleAxis)
    .call(function(a) { a.selectAll('text').attr('font-size', 6.8); });
  g.append('g').attr('transform', 'translate(' + left + ',0)')
    .call(d3.axisLeft(y).tickSize(3).tickPadding(1.8))
    .call(styleAxis)
    .call(function(a) { a.selectAll('text').attr('font-size', 7.2); });

  g.append('text').attr('x', (left + right) / 2).attr('y', top - 3.5)
    .attr('text-anchor', 'middle').attr('font-size', 7.5).text(title);

  // colorbar
  var cbY = d3.scaleLinear().domain([0, vmax]).range([bottom, top]);
  var steps = d3.range(0, vmax, vmax / 128);
  g.selectAll('rect.cb').data(steps).enter().append('rect')
    .attr('class', 'cb')
    .attr('x', cbLeft).attr('width', cbRight - cbLeft)
    .attr('y', function(d) { return cbY(d + vmax / 128); })
    .attr('height', (bottom - top) / 128)
    .attr('shape-rendering', 'crispEdges')
    .attr('fill', function(d) { return color(d); });
  g.append('g').attr('transform', 'translate(' + cbRight + ',0)')
    .call(d3.axisRight(cbY).tickValues(cbTicks).tickSize(3).tickPadding(2))
    .call(styleAxis)
    .call(function(a) { a.selectAll('text').attr('font-size', 5.8); });
}

linePanel('Closes time selection | Sample 303', 66.7, 295.7, trainingCT);
linePanel('Closes Distance selection | Sample 303', 424, 653.3, trainingCD);
linePanel('MAP selection | Sample 303', 781.7, 1010, trainingMAP);

heatmapPanel('Heatmap CT selection', 17.7, 287.7, ctBins, ctCounts, 175.5, ctTicks);
heatmapPanel('Heatmap CD selection', 375, 645.7, cdBins, cdCounts, 125.3, cdTicks);
heatmapPanel('Heatmap MAP selection', 733, 1002.7, cdBins, mapCounts, 125.3, cdTicks);
</script>
</body>
</html>
